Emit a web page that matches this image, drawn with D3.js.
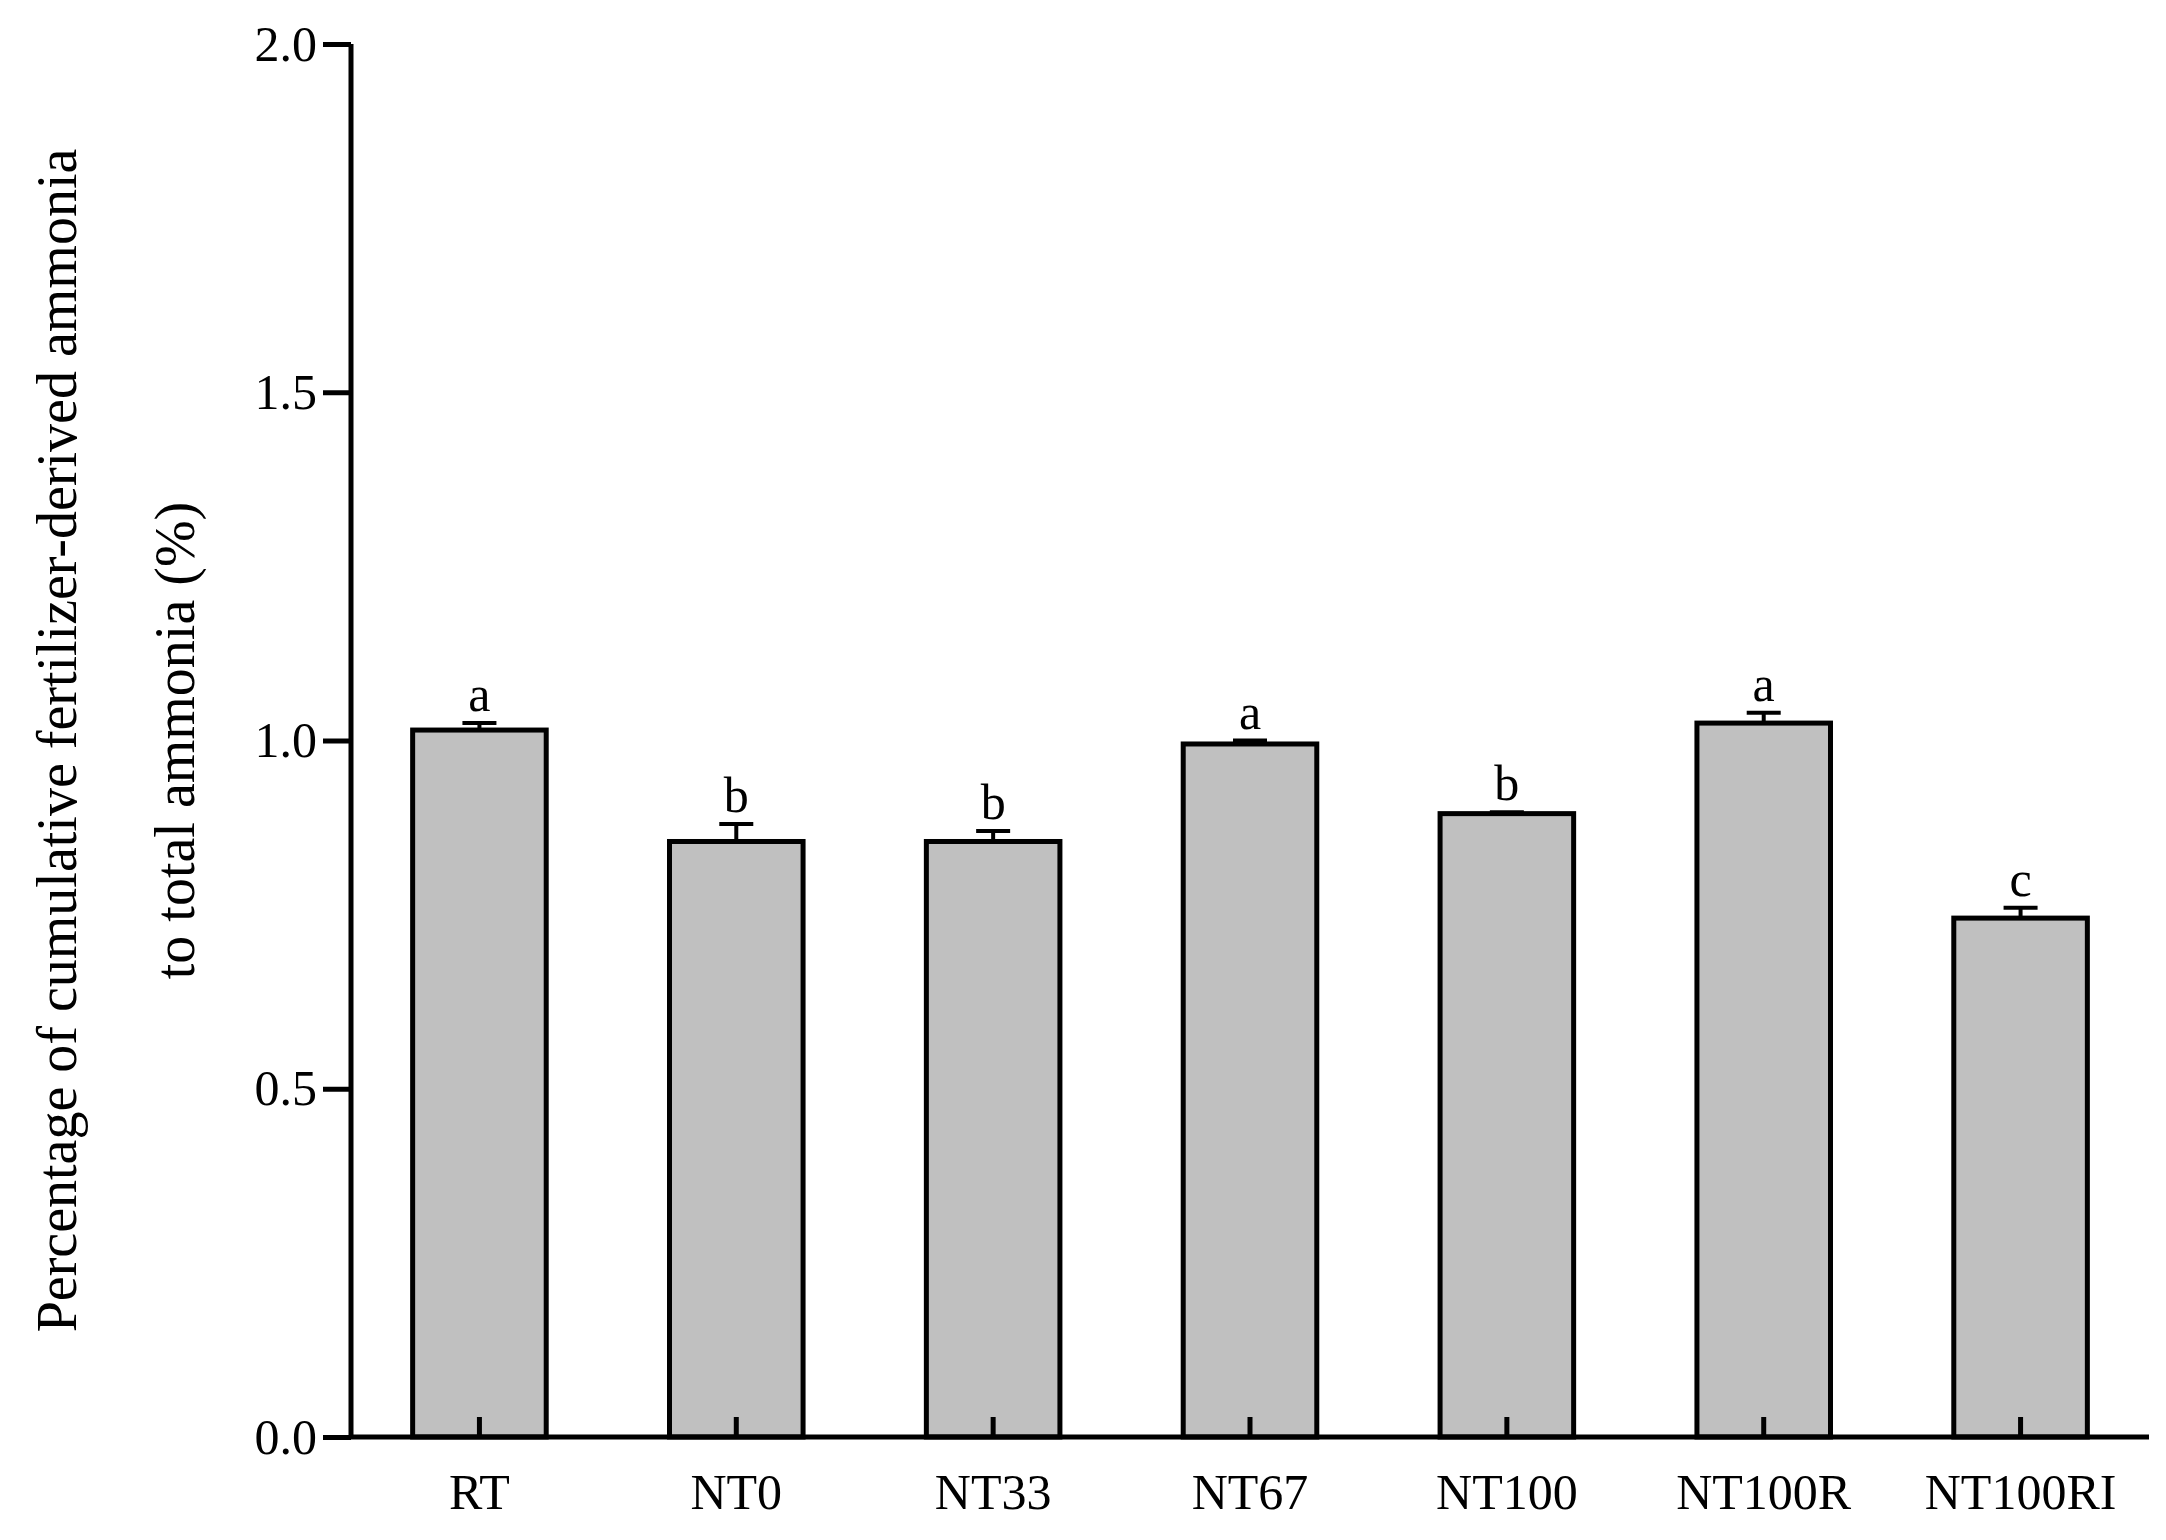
<!DOCTYPE html>
<html><head><meta charset="utf-8">
<script src="https://cdn.jsdelivr.net/npm/d3@7"></script>
<style>body{margin:0;background:#fff}text{font-family:"Liberation Serif","Times New Roman",serif;fill:#000}</style>
</head><body><svg id="c" width="2166" height="1540"></svg>
<script>
const categories = ['RT', 'NT0', 'NT33', 'NT67', 'NT100', 'NT100R', 'NT100RI'];
const values = [1.015, 0.855, 0.855, 0.995, 0.895, 1.025, 0.745];
const errors = [0.01, 0.025, 0.015, 0.005, 0.002, 0.015, 0.015];
const letters = ['a', 'b', 'b', 'a', 'b', 'a', 'c'];
const yTicks = [0, 0.5, 1.0, 1.5, 2.0];

const svg = d3.select('#c');
const mLeft = 351, mRight = 2149, mTop = 44, mBottom = 1437;
const x = d3.scaleBand().domain(categories).range([mLeft, mRight]).paddingInner(0.48).paddingOuter(0.24);
const y = d3.scaleLinear().domain([0, 2]).range([mBottom, mTop]);
const sw = 5;

// bars
svg.selectAll('rect.bar').data(categories).join('rect')
  .attr('x', d => x(d)).attr('width', x.bandwidth())
  .attr('y', (d, i) => y(values[i])).attr('height', (d, i) => y(0) - y(values[i]))
  .attr('fill', '#c0c0c0').attr('stroke', '#000').attr('stroke-width', sw);

// error bars (upper only)
const cx = d => x(d) + x.bandwidth() / 2;
categories.forEach((d, i) => {
  const yt = y(values[i] + errors[i]);
  svg.append('line').attr('x1', cx(d)).attr('x2', cx(d)).attr('y1', y(values[i])).attr('y2', yt)
    .attr('stroke', '#000').attr('stroke-width', 4);
  svg.append('line').attr('x1', cx(d) - 17).attr('x2', cx(d) + 17).attr('y1', yt).attr('y2', yt)
    .attr('stroke', '#000').attr('stroke-width', 4);
  svg.append('text').attr('x', cx(d)).attr('y', yt - 12).attr('text-anchor', 'middle')
    .attr('font-size', 50).text(letters[i]);
});

// axes
const ya = svg.append('g').attr('transform', `translate(${mLeft},0)`)
  .call(d3.axisLeft(y).tickValues(yTicks).tickFormat(d3.format('.1f')).tickSize(28).tickPadding(6));
const xa = svg.append('g').attr('transform', `translate(0,${mBottom})`)
  .call(d3.axisBottom(x).tickSize(-20).tickPadding(36));
[ya, xa].forEach(g => {
  g.selectAll('path,line').attr('stroke', '#000').attr('stroke-width', sw);
  g.selectAll('text').attr('font-size', 50).attr('font-family', '"Liberation Serif",serif');
});
ya.select('.domain').attr('d', `M0,${mTop}V${mBottom}`);
xa.select('.domain').attr('d', `M${mLeft},0H${mRight}`);

// y title
const tx = 56, ty = (mTop + mBottom) / 2;
svg.append('text').attr('transform', `translate(${tx},${ty}) rotate(-90)`).attr('text-anchor', 'middle')
  .attr('dy', '0.35em').attr('font-size', 56).text('Percentage of cumulative fertilizer-derived ammonia');
svg.append('text').attr('transform', `translate(${tx + 118},${ty}) rotate(-90)`).attr('text-anchor', 'middle')
  .attr('dy', '0.35em').attr('font-size', 56).text('to total ammonia (%)');
</script></body></html>
